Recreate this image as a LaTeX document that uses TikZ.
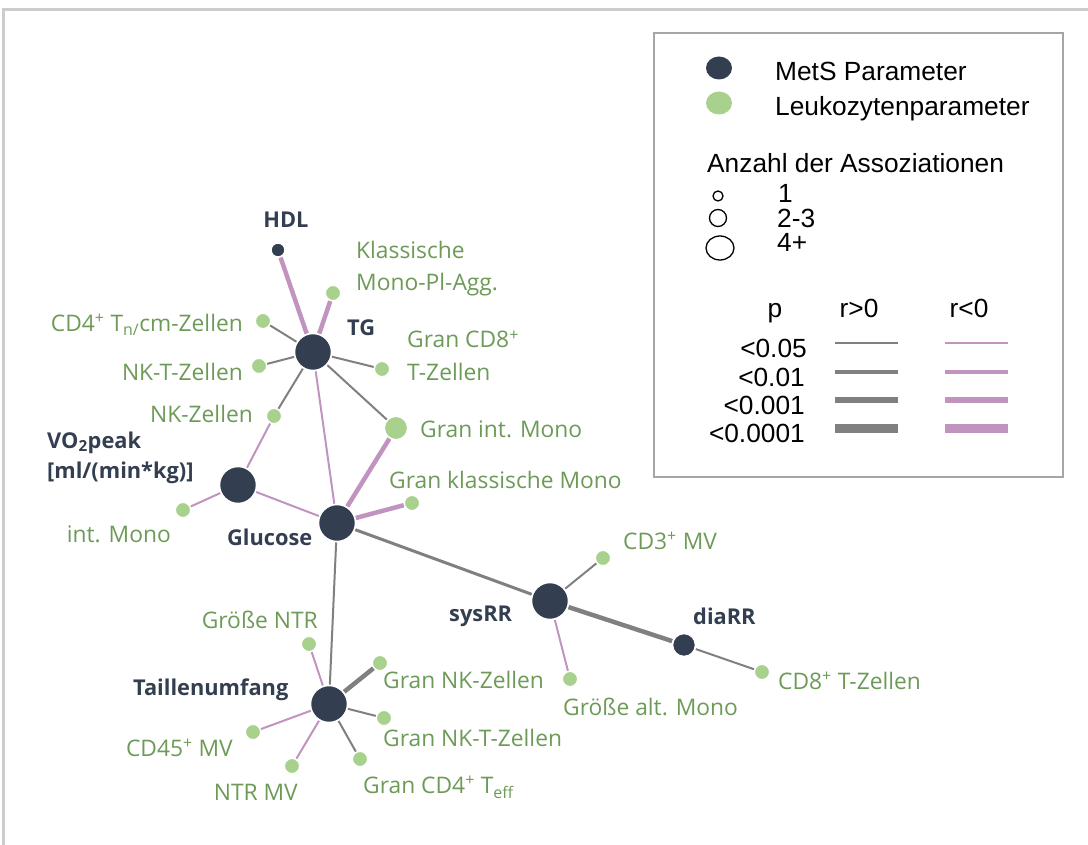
\documentclass[tikz,border=0pt]{standalone}
\usepackage{fontspec}
\usetikzlibrary{shapes.geometric}
\setmainfont{Open Sans}
\newfontfamily\legfont{Liberation Sans}
\definecolor{darknode}{HTML}{333F50}
\definecolor{greennode}{HTML}{A9D18E}
\definecolor{greentext}{HTML}{6D9A57}
\definecolor{pinkedge}{HTML}{C194C0}
\definecolor{grayedge}{HTML}{808080}
\definecolor{framegray}{HTML}{A6A6A6}
\definecolor{outergray}{HTML}{CCCCCC}
\begin{document}
\begin{tikzpicture}[x=1pt,y=-1pt,
  mets/.style={circle,fill=darknode,draw=white,line width=1.5pt,inner sep=0pt,outer sep=1pt},
  big/.style={mets,minimum size=37pt},
  mid/.style={mets,minimum size=23pt},
  small/.style={mets,minimum size=14pt},
  leuk/.style={circle,fill=greennode,draw=white,line width=1pt,inner sep=0pt,outer sep=1pt,minimum size=15pt},
  leukmid/.style={leuk,minimum size=23pt},
  gl/.style={font=\fontsize{22.8}{27}\selectfont,text=greentext,inner sep=0pt},
  dl/.style={font=\fontsize{21.8}{26}\selectfont\bfseries,text=darknode,inner sep=0pt},
  pos1/.style={draw=grayedge,line width=2pt},
  pos2/.style={draw=grayedge,line width=3pt},
  pos3/.style={draw=grayedge,line width=4.5pt},
  neg1/.style={draw=pinkedge,line width=2pt},
  neg3/.style={draw=pinkedge,line width=4.5pt},
  lt/.style={font=\legfont\fontsize{26.3}{31}\selectfont,inner sep=0pt},
]
\useasboundingbox (0,0) rectangle (1088,845);
% outer frame
\draw[outergray,line width=3pt] (3.5,845) coordinate (fl) -- (3.5,10) coordinate (fc) -- (1088,10) coordinate (fr);

% MetS nodes
\node[small] (hdl) at (278,250) {};
\node[big] (tg) at (313,352) {};
\node[big] (vo2) at (238,485) {};
\node[big] (glu) at (337,523) {};
\node[big] (sys) at (550,601) {};
\node[mid] (dia) at (684,645) {};
\node[big] (tail) at (329,704) {};

% leukocyte nodes
\node[leuk] (kmpa) at (333,293) {};
\node[leuk] (cd4n) at (263,321) {};
\node[leuk] (nkt) at (259,366) {};
\node[leuk] (nk) at (274,416) {};
\node[leuk] (gcd8) at (382,369) {};
\node[leukmid] (gint) at (396,428) {};
\node[leuk] (gkl) at (412,503) {};
\node[leuk] (intm) at (183,510) {};
\node[leuk] (cd3) at (603,558) {};
\node[leuk] (galt) at (570,679) {};
\node[leuk] (cd8) at (762,672) {};
\node[leuk] (gntr) at (309,644) {};
\node[leuk] (gnk) at (380,663) {};
\node[leuk] (gnkt) at (384,718) {};
\node[leuk] (gcd4) at (360,759) {};
\node[leuk] (ntrmv) at (292,766) {};
\node[leuk] (cd45) at (253,732) {};

% edges
\draw[neg3] (hdl) -- (tg);
\draw[neg3] (tg) -- (kmpa);
\draw[pos1] (tg) -- (cd4n);
\draw[pos1] (tg) -- (nkt);
\draw[pos1] (tg) -- (nk);
\draw[pos1] (tg) -- (gcd8);
\draw[pos1] (tg) -- (gint);
\draw[neg1] (tg) -- (glu);
\draw[neg1] (nk) -- (vo2);
\draw[neg1] (vo2) -- (intm);
\draw[neg1] (vo2) -- (glu);
\draw[neg3] (glu) -- (gint);
\draw[neg3] (glu) -- (gkl);
\draw[pos2] (glu) -- (sys);
\draw[pos1] (glu) -- (tail);
\draw[pos3] (sys) -- (dia);
\draw[pos1] (sys) -- (cd3);
\draw[neg1] (sys) -- (galt);
\draw[pos1] (dia) -- (cd8);
\draw[neg1] (tail) -- (gntr);
\draw[pos3] (tail) -- (gnk);
\draw[pos1] (tail) -- (gnkt);
\draw[pos1] (tail) -- (gcd4);
\draw[neg1] (tail) -- (ntrmv);
\draw[neg1] (tail) -- (cd45);

% MetS labels
\node[dl,anchor=base] (lhdl) at (286,228) {HDL};
\node[dl,anchor=base west] (ltg) at (347,336) {TG};
\node[dl,anchor=base west] (lvo2a) at (47,448) {VO\textsubscript{2}peak};
\node[dl,anchor=base west] (lvo2b) at (47,478) {[ml/(min*kg)]};
\node[dl,anchor=base west] (lglu) at (227,545) {Glucose};
\node[dl,anchor=base west] (lsys) at (449,621) {sysRR};
\node[dl,anchor=base west] (ldia) at (693,624) {diaRR};
\node[dl,anchor=base west] (ltail) at (133,695) {Taillenumfang};

% leukocyte labels
\node[gl,anchor=base west] (lkmpa1) at (356,259) {Klassische};
\node[gl,anchor=base west] (lkmpa2) at (356,291) {Mono-Pl-Agg.};
\node[gl,anchor=base east] (lcd4n) at (243,331) {CD4\textsuperscript{+} T\textsubscript{n/}cm-Zellen};
\node[gl,anchor=base east] (lnkt) at (243,380) {NK-T-Zellen};
\node[gl,anchor=base east] (lnk) at (253,422) {NK-Zellen};
\node[gl,anchor=base west] (lgcd8a) at (407,348) {Gran CD8\textsuperscript{+}};
\node[gl,anchor=base west] (lgcd8b) at (407,381) {T-Zellen};
\node[gl,anchor=base west] (lgint) at (420,437) {Gran int. Mono};
\node[gl,anchor=base west] (lgkl) at (389,488) {Gran klassische Mono};
\node[gl,anchor=base east] (lintm) at (171,542) {int. Mono};
\node[gl,anchor=base west] (lcd3) at (623,549) {CD3\textsuperscript{+} MV};
\node[gl,anchor=base west] (lgalt) at (563,715) {Größe alt. Mono};
\node[gl,anchor=base west] (lcd8) at (778,689) {CD8\textsuperscript{+} T-Zellen};
\node[gl,anchor=base east] (lgntr) at (318,628) {Größe NTR};
\node[gl,anchor=base west] (lgnk) at (383,688) {Gran NK-Zellen};
\node[gl,anchor=base west] (lgnkt) at (383,746) {Gran NK-T-Zellen};
\node[gl,anchor=base west] (lgcd4) at (363,793) {Gran CD4\textsuperscript{+} T\textsubscript{eff}};
\node[gl,anchor=base east] (lntrmv) at (298,800) {NTR MV};
\node[gl,anchor=base east] (lcd45) at (233,756) {CD45\textsuperscript{+} MV};

% legend
\node[draw=framegray,line width=2pt,minimum width=409pt,minimum height=444pt,anchor=north west,inner sep=0pt] (leg) at (653,32) {};
\node[ellipse,fill=darknode,minimum width=26pt,minimum height=23pt,inner sep=0pt] (legd) at (719,68) {};
\node[ellipse,fill=greennode,minimum width=26pt,minimum height=23pt,inner sep=0pt] (legg) at (719,103) {};
\node[lt,anchor=base west] (legdt) at (775,81) {MetS Parameter};
\node[lt,anchor=base west] (leggt) at (775,116) {Leukozytenparameter};
\node[lt,anchor=base west] (legan) at (707,173) {Anzahl der Assoziationen};
\node[circle,draw=black,line width=1.3pt,minimum size=10pt,inner sep=0pt] (c1) at (718,196) {};
\node[circle,draw=black,line width=1.3pt,minimum size=17pt,inner sep=0pt] (c2) at (718,218) {};
\node[ellipse,draw=black,line width=1.3pt,minimum width=28pt,minimum height=24pt,inner sep=0pt] (c3) at (720,248) {};
\node[lt,anchor=base west] (c1t) at (778,203) {1};
\node[lt,anchor=base west] (c2t) at (777,228) {2-3};
\node[lt,anchor=base west] (c3t) at (777,252) {4+};
\node[lt,anchor=base] (hp) at (775,318) {p};
\node[lt,anchor=base] (hpos) at (859,318) {r>0};
\node[lt,anchor=base] (hneg) at (969,318) {r<0};
\node[lt,anchor=base east] (p1) at (807,357) {<0.05};
\node[lt,anchor=base east] (p2) at (805,386) {<0.01};
\node[lt,anchor=base east] (p3) at (805,414) {<0.001};
\node[lt,anchor=base east] (p4) at (805,442) {<0.0001};
\coordinate (a1) at (835,343); \coordinate (b1) at (898,343);
\coordinate (a2) at (835,372); \coordinate (b2) at (898,372);
\coordinate (a3) at (835,400); \coordinate (b3) at (898,400);
\coordinate (a4) at (835,428); \coordinate (b4) at (898,428);
\coordinate (c1a) at (945,343); \coordinate (d1) at (1008,343);
\coordinate (c2a) at (945,372); \coordinate (d2) at (1008,372);
\coordinate (c3a) at (945,400); \coordinate (d3) at (1008,400);
\coordinate (c4a) at (945,428); \coordinate (d4) at (1008,428);
\draw[grayedge,line width=2pt] (a1) -- (b1);
\draw[grayedge,line width=3.5pt] (a2) -- (b2);
\draw[grayedge,line width=5.5pt] (a3) -- (b3);
\draw[grayedge,line width=9pt] (a4) -- (b4);
\draw[pinkedge,line width=2pt] (c1a) -- (d1);
\draw[pinkedge,line width=3.5pt] (c2a) -- (d2);
\draw[pinkedge,line width=5.5pt] (c3a) -- (d3);
\draw[pinkedge,line width=9pt] (c4a) -- (d4);
\end{tikzpicture}
\end{document}
